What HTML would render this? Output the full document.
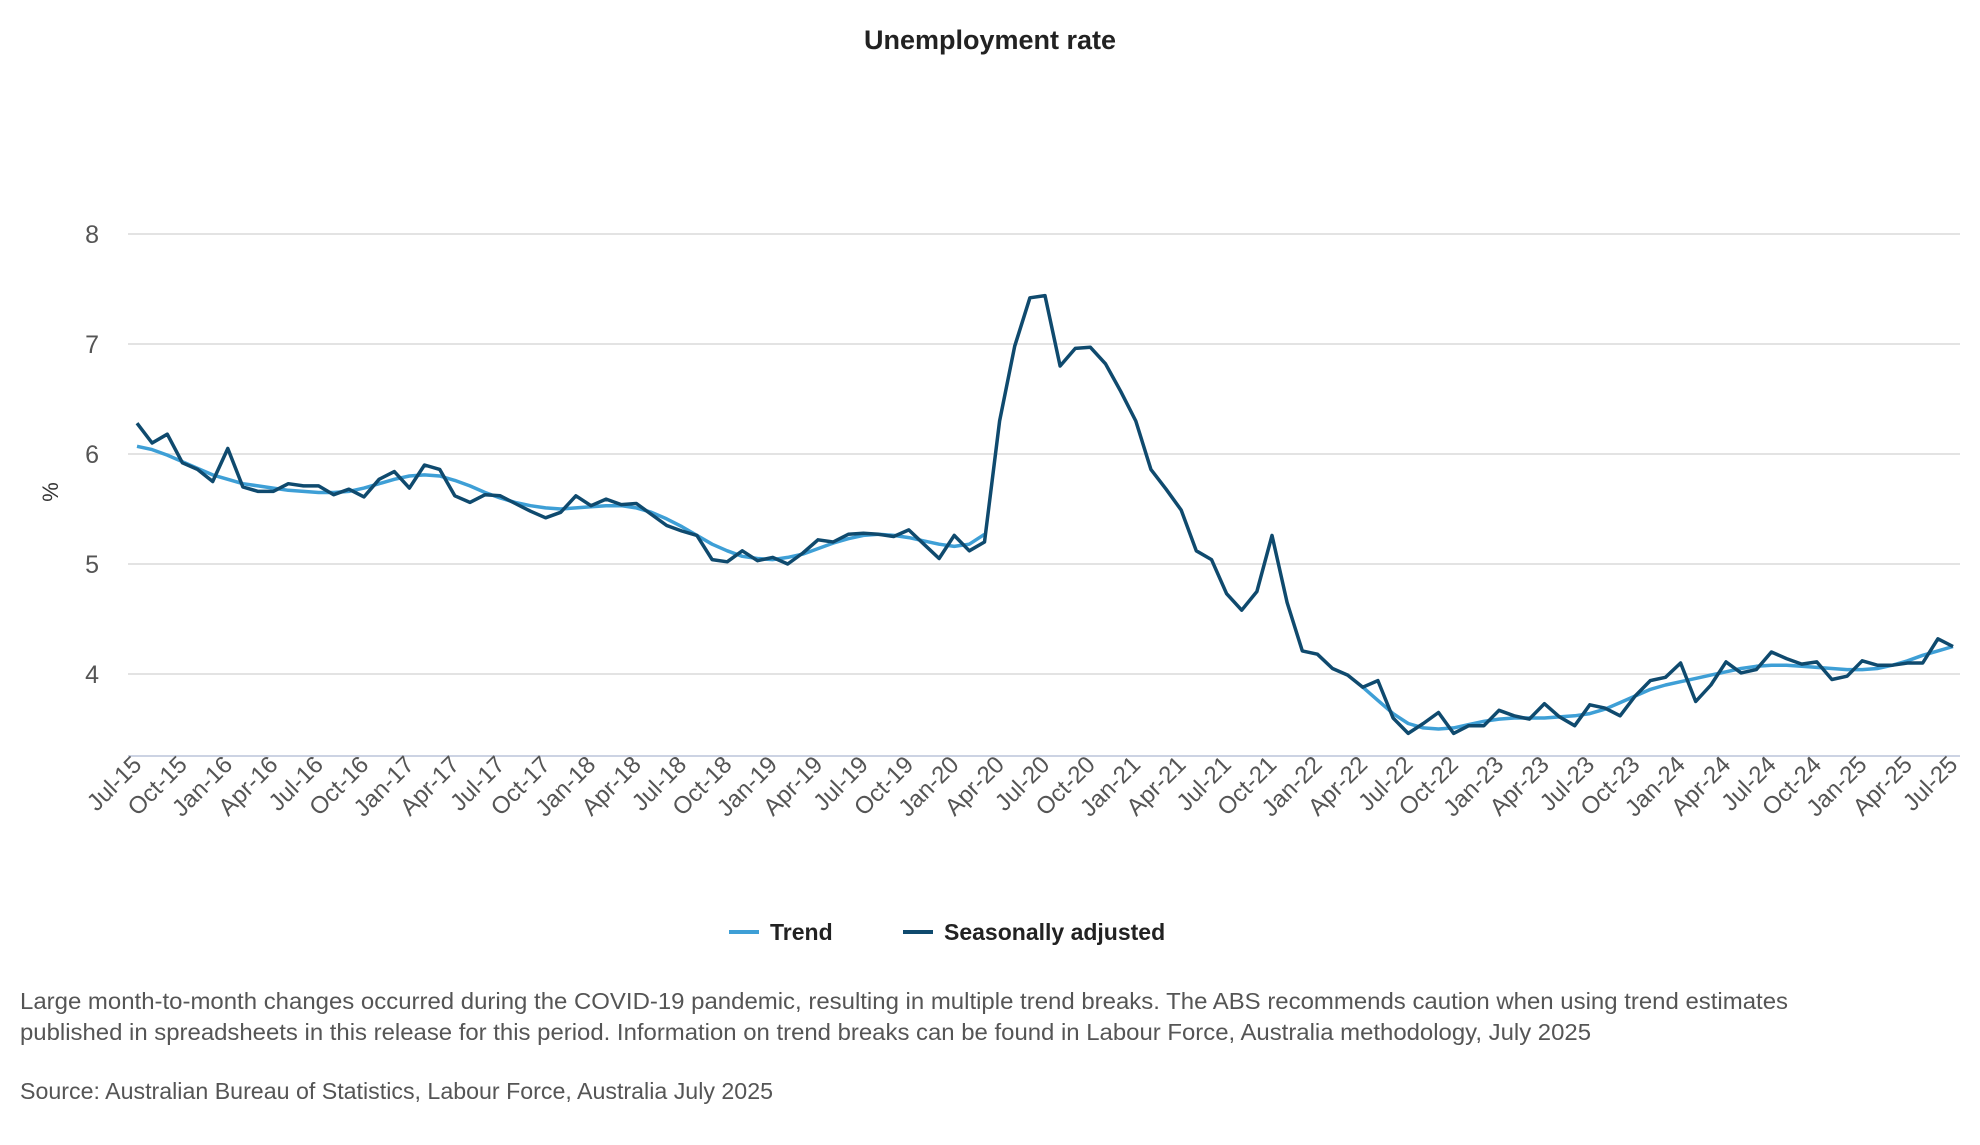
<!DOCTYPE html>
<html><head><meta charset="utf-8"><style>
body{margin:0;background:#fff;font-family:"Liberation Sans",sans-serif;}
svg text{font-family:"Liberation Sans",sans-serif;}
</style></head><body>
<svg id="chart" width="1980" height="1140" viewBox="0 0 1980 1140" xmlns="http://www.w3.org/2000/svg">
<text x="990" y="49" text-anchor="middle" font-size="27" font-weight="bold" fill="#222">Unemployment rate</text>
<g id="grid"></g><g id="xlabels"></g><g id="lines"></g>
<text transform="translate(58,492) rotate(-90)" text-anchor="middle" font-size="22" fill="#333">%</text>
<g>
<line x1="729" y1="932" x2="759" y2="932" stroke="#3e9fd6" stroke-width="4"/>
<text x="770" y="940" font-size="23" font-weight="bold" fill="#222">Trend</text>
<line x1="903" y1="932" x2="933" y2="932" stroke="#0f4a6e" stroke-width="4"/>
<text x="944" y="940" font-size="23" font-weight="bold" fill="#222">Seasonally adjusted</text>
</g>
<text font-size="23" fill="#555"><tspan x="20" y="1009" textLength="1768" lengthAdjust="spacingAndGlyphs">Large month-to-month changes occurred during the COVID-19 pandemic, resulting in multiple trend breaks. The ABS recommends caution when using trend estimates</tspan><tspan x="20" y="1040" textLength="1571" lengthAdjust="spacingAndGlyphs">published in spreadsheets in this release for this period. Information on trend breaks can be found in Labour Force, Australia methodology, July 2025</tspan></text>
<text x="20" y="1099" font-size="23" fill="#555" textLength="753" lengthAdjust="spacingAndGlyphs">Source: Australian Bureau of Statistics, Labour Force, Australia July 2025</text>
</svg>
<script>
const monthNames=["Jan","Feb","Mar","Apr","May","Jun","Jul","Aug","Sep","Oct","Nov","Dec"];
const yTicks=[4,5,6,7,8];
const seasonal=[6.28,6.1,6.18,5.92,5.86,5.75,
6.05,5.7,5.66,5.66,5.73,5.71,5.71,5.63,5.68,5.61,5.77,5.84,
5.69,5.9,5.86,5.62,5.56,5.63,5.62,5.55,5.48,5.42,5.47,5.62,
5.53,5.59,5.54,5.55,5.45,5.35,5.3,5.26,5.04,5.02,5.12,5.03,
5.06,5.0,5.1,5.22,5.2,5.27,5.28,5.27,5.25,5.31,5.18,5.05,
5.26,5.12,5.2,6.3,6.98,7.42,7.44,6.8,6.96,6.97,6.82,6.57,
6.3,5.86,5.68,5.49,5.12,5.04,4.73,4.58,4.75,5.26,4.65,4.21,
4.18,4.05,3.99,3.88,3.94,3.6,3.46,3.55,3.65,3.46,3.53,3.53,
3.67,3.62,3.59,3.73,3.61,3.53,3.72,3.69,3.62,3.8,3.94,3.97,
4.1,3.75,3.9,4.11,4.01,4.04,4.2,4.14,4.09,4.11,3.95,3.98,
4.12,4.08,4.08,4.1,4.1,4.32,4.25];
const trend=[6.07,6.04,5.99,5.93,5.87,5.81,
5.77,5.73,5.71,5.69,5.67,5.66,5.65,5.65,5.66,5.69,5.73,5.77,
5.8,5.81,5.8,5.76,5.71,5.65,5.6,5.56,5.53,5.51,5.5,5.51,
5.52,5.53,5.53,5.51,5.47,5.41,5.34,5.26,5.18,5.12,5.07,5.05,
5.04,5.06,5.09,5.14,5.19,5.23,5.26,5.27,5.26,5.24,5.21,5.18,
5.16,5.18,5.27,null,null,null,null,null,null,null,null,null,
null,null,null,null,null,null,null,null,null,null,null,null,
null,null,null,3.88,3.76,3.64,3.55,3.51,3.5,3.51,3.54,3.57,
3.59,3.6,3.6,3.6,3.61,3.62,3.64,3.68,3.74,3.8,3.86,3.9,
3.93,3.96,3.99,4.02,4.05,4.07,4.08,4.08,4.07,4.06,4.05,4.04,
4.04,4.05,4.08,4.12,4.17,4.21,4.25];
const categories=seasonal.map((_,i)=>{const m=(6+i)%12,y=15+Math.floor((6+i)/12);return monthNames[m]+"-"+y;});
const NS="http://www.w3.org/2000/svg";
const X0=137,X1=1953,Y8=234,Y4=674,BASE=756,PL=128,PR=1960;
const x=i=>X0+(X1-X0)*i/(categories.length-1);
const y=v=>Y4+(Y8-Y4)*(v-4)/4;
function mk(t,a,p){const e=document.createElementNS(NS,t);for(const k in a)e.setAttribute(k,a[k]);p.appendChild(e);return e;}
const grid=document.getElementById('grid');
yTicks.forEach(t=>{
 const l=mk('line',{x1:PL,x2:PR,y1:y(t),y2:y(t),stroke:'#e3e3e3','stroke-width':2},grid);
 
 
 const tx=mk('text',{x:99,y:y(t)+9,'text-anchor':'end','font-size':25,fill:'#555'},grid);
 tx.textContent=t;
 
 
});
const ax=mk('line',{x1:PL,x2:PR,y1:BASE,y2:BASE,stroke:'#ccd3e3','stroke-width':2},grid);


const xl=document.getElementById('xlabels');
categories.forEach((c,i)=>{if(i%3)return;
 const tx=mk('text',{transform:`translate(${x(i)+6},${BASE+10}) rotate(-45)`,'text-anchor':'end','font-size':24,fill:'#555'},xl);
 tx.textContent=c;
 
 
});
function path(arr){let d="",pen=false;arr.forEach((v,i)=>{if(v==null){pen=false;return;}d+=(pen?"L":"M")+x(i).toFixed(1)+","+y(v).toFixed(1);pen=true;});return d;}
const lines=document.getElementById('lines');
const tp=mk('path',{d:path(trend),fill:'none',stroke:'#3e9fd6','stroke-width':3.5,'stroke-linejoin':'round'},lines);


const sp=mk('path',{d:path(seasonal),fill:'none',stroke:'#0f4a6e','stroke-width':3.5,'stroke-linejoin':'round'},lines);


</script>
</body></html>
